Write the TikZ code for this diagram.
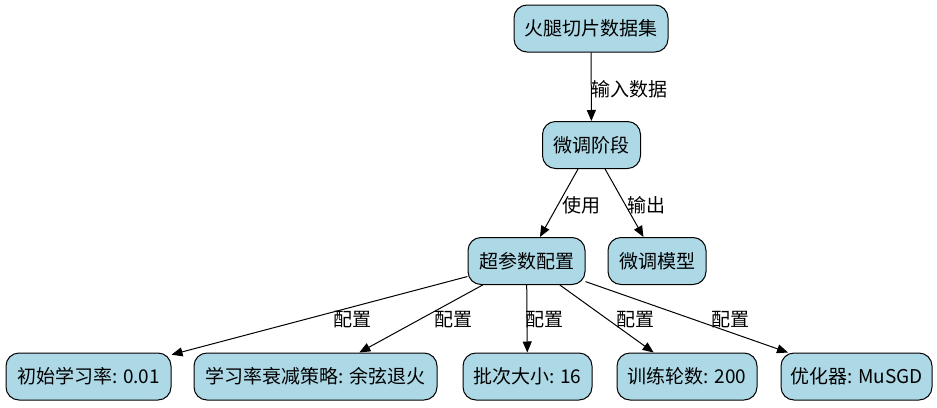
\documentclass[tikz,border=0pt]{standalone}
\usepackage{fontspec}
\setmainfont{Noto Sans CJK SC}
\usetikzlibrary{arrows.meta}
\begin{document}
\begin{tikzpicture}[x=1pt,y=-1pt,
  box/.style={draw=black, line width=1pt, fill=lightblue, rounded corners=13pt,
    minimum height=47pt, inner xsep=0pt, inner ysep=0pt, font=\fontsize{19}{22}\selectfont},
  lbl/.style={inner sep=0pt, font=\fontsize{19}{22}\selectfont},
  edge/.style={draw=black, line width=1pt, -{Triangle[length=11pt,width=9pt]}}]
\definecolor{lightblue}{HTML}{ADD8E6}
\useasboundingbox (0,0) rectangle (937,407);

\node[box, minimum width=154pt] (ds) at (591,28.5) {火腿切片数据集};
\node[box, minimum width=98pt] (ft) at (591.5,145) {微调阶段};
\node[box, minimum width=117pt] (hp) at (526.5,261) {超参数配置};
\node[box, minimum width=98pt] (fm) at (657,261) {微调模型};
\node[box, minimum width=165pt] (lr) at (88.5,376.5) {初始学习率: 0.01};
\node[box, minimum width=243pt] (sch) at (315.5,376.5) {学习率衰减策略: 余弦退火};
\node[box, minimum width=129pt] (bs) at (527.5,376.5) {批次大小: 16};
\node[box, minimum width=140pt] (ep) at (687,376.5) {训练轮数: 200};
\node[box, minimum width=151pt] (opt) at (856.5,376.5) {优化器: MuSGD};

\draw[edge] (ds) -- (ft);
\draw[edge] (ft) -- (hp);
\draw[edge] (ft) -- (fm);
\draw[edge] (hp) -- (lr);
\draw[edge] (hp) -- (sch);
\draw[edge] (hp) -- (bs);
\draw[edge] (hp) -- (ep);
\draw[edge] (hp) -- (opt);

\node[lbl] (l1) at (629,89) {输入数据};
\node[lbl] (l2) at (581,205) {使用};
\node[lbl] (l3) at (646,205) {输出};
\node[lbl] (l4) at (352,320) {配置};
\node[lbl] (l5) at (453,320) {配置};
\node[lbl] (l6) at (544,320) {配置};
\node[lbl] (l7) at (635,320) {配置};
\node[lbl] (l8) at (730,320) {配置};
\end{tikzpicture}
\end{document}
